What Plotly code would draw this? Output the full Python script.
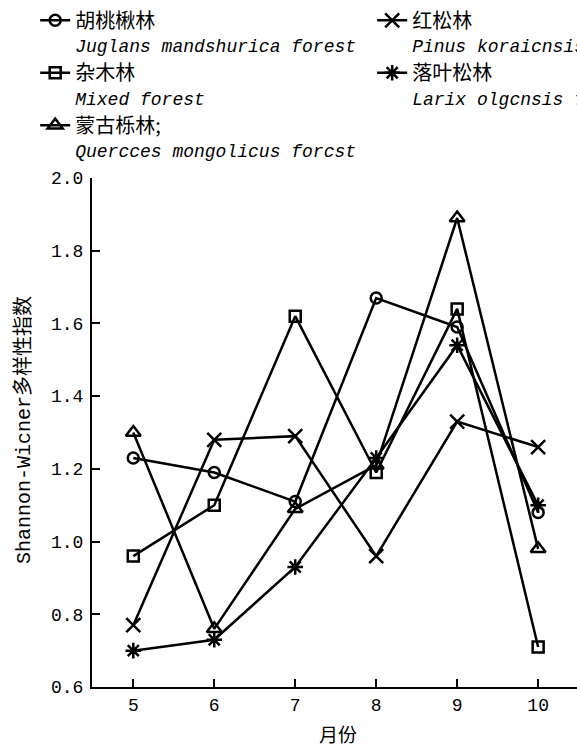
import plotly.graph_objects as go

months = [5, 6, 7, 8, 9, 10]
juglans = [1.23, 1.19, 1.11, 1.67, 1.59, 1.08]
mixed = [0.96, 1.10, 1.62, 1.19, 1.64, 0.71]
quercus = [1.30, 0.76, 1.09, 1.21, 1.89, 0.98]
pinus = [0.77, 1.28, 1.29, 0.96, 1.33, 1.26]
larix = [0.70, 0.73, 0.93, 1.23, 1.54, 1.10]

y_ticks = [0.6, 0.8, 1.0, 1.2, 1.4, 1.6, 1.8, 2.0]

CJK = "Noto Sans CJK SC"
MONO = "Liberation Mono"


def lname(cn, en):
    return (f'<span style="font-family:{CJK};font-size:20px">{cn}</span><br>'
            f'<span style="font-family:{MONO};font-size:18px"><i>{en}</i></span>')


series = [
    ("胡桃楸林", "Juglans mandshurica forest", juglans, "circle-open", 11, "legend"),
    ("杂木林", "Mixed forest", mixed, "square-open", 11, "legend"),
    ("蒙古栎林;", "Quercces mongolicus forcst", quercus, "triangle-up-open", 13, "legend"),
    ("红松林", "Pinus koraicnsis forest", pinus, "x-thin-open", 14, "legend2"),
    ("落叶松林", "Larix olgcnsis forest", larix, "asterisk-open", 13, "legend2"),
]

fig = go.Figure()
for cn, en, vals, sym, size, lg in series:
    fig.add_trace(go.Scatter(
        x=months, y=vals, mode="lines+markers", name=lname(cn, en),
        line=dict(color="black", width=2.5),
        marker=dict(symbol=sym, size=size, color="black",
                    line=dict(color="black", width=2.5)),
        legend=lg,
    ))

axis_font = dict(family=MONO, size=18, color="black")

fig.update_layout(
    width=577, height=748,
    margin=dict(l=92, r=0, t=178, b=61, autoexpand=False),
    paper_bgcolor="white", plot_bgcolor="white",
    showlegend=True,
    legend=dict(xref="container", yref="container", x=0.061, y=0.998,
                xanchor="left", yanchor="top", valign="top",
                font=dict(family=MONO, size=19, color="black"),
                bgcolor="rgba(0,0,0,0)", tracegroupgap=0),
    legend2=dict(xref="container", yref="container", x=0.645, y=0.998,
                 xanchor="left", yanchor="top", valign="top",
                 font=dict(family=MONO, size=19, color="black"),
                 bgcolor="rgba(0,0,0,0)", tracegroupgap=0),
    xaxis=dict(range=[4.49, 10.48], tickvals=months, ticktext=[str(m) for m in months],
               ticks="inside", ticklen=8, tickwidth=2, tickcolor="black",
               showline=True, linecolor="black", linewidth=2,
               showgrid=False, zeroline=False, tickfont=axis_font),
    yaxis=dict(range=[0.6, 2.0], tickvals=y_ticks,
               ticktext=[f"{v:.1f}" for v in y_ticks],
               ticks="inside", ticklen=8, tickwidth=2, tickcolor="black",
               ticklabelstandoff=3,
               showline=True, linecolor="black", linewidth=2,
               showgrid=False, zeroline=False, tickfont=axis_font),
    annotations=[
        dict(text=f'<span style="font-family:{MONO}">Shannon-Wicner</span>多样性指数',
             xref="paper", yref="paper", x=-(92 - 21) / 485, y=1 - (430 - 178) / 509,
             xanchor="center", yanchor="middle", textangle=-90,
             showarrow=False, font=dict(family=CJK, size=20, color="black")),
        dict(text="月份", xref="paper", yref="paper", x=(338 - 92) / 485,
             y=-(733 - 687) / 509, xanchor="center", yanchor="middle",
             showarrow=False, font=dict(family=CJK, size=19, color="black")),
    ],
)

fig.write_html("out.html", config={"displayModeBar": False},
               post_script="document.body.style.margin='0px';")
